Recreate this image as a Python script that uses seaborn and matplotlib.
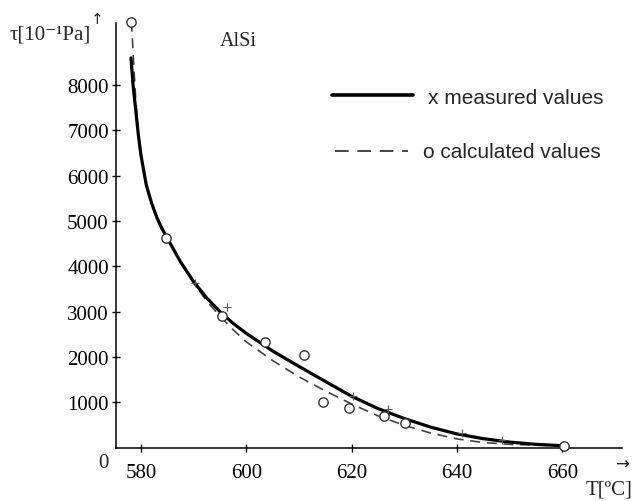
import numpy as np
import pandas as pd
import matplotlib
matplotlib.use("Agg")
import matplotlib.pyplot as plt
import seaborn as sns
from matplotlib.lines import Line2D

# measured curve (solid)
meas_T = [578.1, 578.5, 579.0, 579.5, 580.0, 581.0, 582.0, 583.0, 584.0, 585.0, 587.5,
          590.0, 592.5, 595.0, 597.5, 600.0, 605.0, 610.0, 615.0, 620.0, 625.0,
          630.0, 635.0, 640.0, 645.0, 650.0, 655.0, 660.0]
meas_tau = [8600, 8000, 7450, 6900, 6450, 5800, 5400, 5080, 4830, 4620, 4100,
            3660, 3300, 3000, 2740, 2520, 2130, 1790, 1460, 1130, 860,
            640, 450, 300, 195, 120, 70, 40]

# calculated curve (dashed)
calc_T = [578.2, 578.6, 579.0, 579.5, 580.0, 581.0, 582.0, 583.0, 584.0, 585.0, 587.5,
          590.0, 592.5, 595.0, 597.5, 600.0, 605.0, 610.0, 615.0, 620.0, 625.0,
          630.0, 635.0, 640.0, 645.0, 650.0, 655.0, 660.0]
calc_tau = [9400, 8500, 7700, 6950, 6450, 5800, 5400, 5080, 4830, 4620, 4090,
            3630, 3230, 2900, 2600, 2330, 1920, 1560, 1250, 960, 700,
            490, 320, 190, 110, 70, 50, 40]

# calculated points (o)
pts_o_T = [578.2, 584.8, 595.4, 603.5, 610.9, 614.6, 619.5, 626.2, 630.1, 660.4]
pts_o_tau = [9400, 4625, 2910, 2320, 2040, 1000, 865, 690, 540, 40]

# measured points (x)
pts_x_T = [590.3, 596.3, 620.3, 626.9, 641.0, 648.5]
pts_x_tau = [3640, 3100, 1140, 860, 310, 160]

x_ticks = [580, 600, 620, 640, 660]
y_ticks = [1000, 2000, 3000, 4000, 5000, 6000, 7000, 8000]

sns.set_style("ticks")
plt.rcParams['font.family'] = ['Liberation Serif', 'DejaVu Serif']

W, H = 632, 502
fig = plt.figure(figsize=(W / 100, H / 100), dpi=100)
ax = fig.add_axes([115.7 / W, 1 - 448.5 / H, (621.7 - 115.7) / W, (448.5 - 24) / H])

meas = pd.DataFrame({"T": meas_T, "tau": meas_tau})
calc = pd.DataFrame({"T": calc_T, "tau": calc_tau})
sns.lineplot(data=calc, x="T", y="tau", ax=ax, color="#444444", lw=1.2,
             dashes=False, sort=False, clip_on=False).lines[-1].set_dashes((6, 4))
sns.lineplot(data=meas, x="T", y="tau", ax=ax, color="black", lw=2.3, sort=False)
ax.scatter(pts_o_T, pts_o_tau, s=45, facecolors="white", edgecolors="#333333",
           linewidths=1.0, zorder=5, clip_on=False)
ax.scatter(pts_x_T, pts_x_tau, s=30, marker="+", color="#555555",
           linewidths=0.8, zorder=5)

ax.set_xlim(575.2, 671.3)
ax.set_ylim(0, 9370)
ax.set_xticks(x_ticks)
ax.set_yticks(y_ticks)
ax.set_xlabel("")
ax.set_ylabel("")
for s in ["top", "right"]:
    ax.spines[s].set_visible(False)
for s in ["left", "bottom"]:
    ax.spines[s].set_linewidth(1.1)
    ax.spines[s].set_color("black")
ax.tick_params(axis="both", direction="inout", length=6, width=1.0,
               labelsize=15, colors="black")
ax.tick_params(axis="x", pad=8)
ax.tick_params(axis="y", pad=2)

# axis annotations
fig.text(103 / W, 1 - 464 / H, "0", fontsize=15, ha="center", va="center")
fig.text(10 / W, 1 - 35 / H, "τ[10⁻¹Pa]", fontsize=15, ha="left", va="center")
fig.text(97 / W, 1 - 20 / H, "↑", fontsize=11, ha="center", va="center",
         family=['DejaVu Sans'])
fig.text(220 / W, 1 - 41 / H, "AlSi", fontsize=14.5, ha="left", va="center")
fig.text(586 / W, 1 - 490 / H, "T[ºC]", fontsize=15, ha="left", va="center")
fig.text(622 / W, 1 - 465 / H, "→", fontsize=12, ha="center", va="center",
         family=['DejaVu Sans'])

# legend
fig.add_artist(Line2D([331.7 / W, 413.3 / W], [1 - 96 / H, 1 - 96 / H],
                      color="black", lw=2.6))
fig.add_artist(Line2D([335 / W, 408 / W], [1 - 152 / H, 1 - 152 / H],
                      color="#444444", lw=1.4, dashes=(7, 4.5)))
fig.text(428 / W, 1 - 98 / H, "x measured values", fontsize=15,
         family=['Liberation Sans'], ha="left", va="center")
fig.text(423 / W, 1 - 153 / H, "o calculated values", fontsize=15,
         family=['Liberation Sans'], ha="left", va="center")

fig.savefig("out.png", dpi=100)
